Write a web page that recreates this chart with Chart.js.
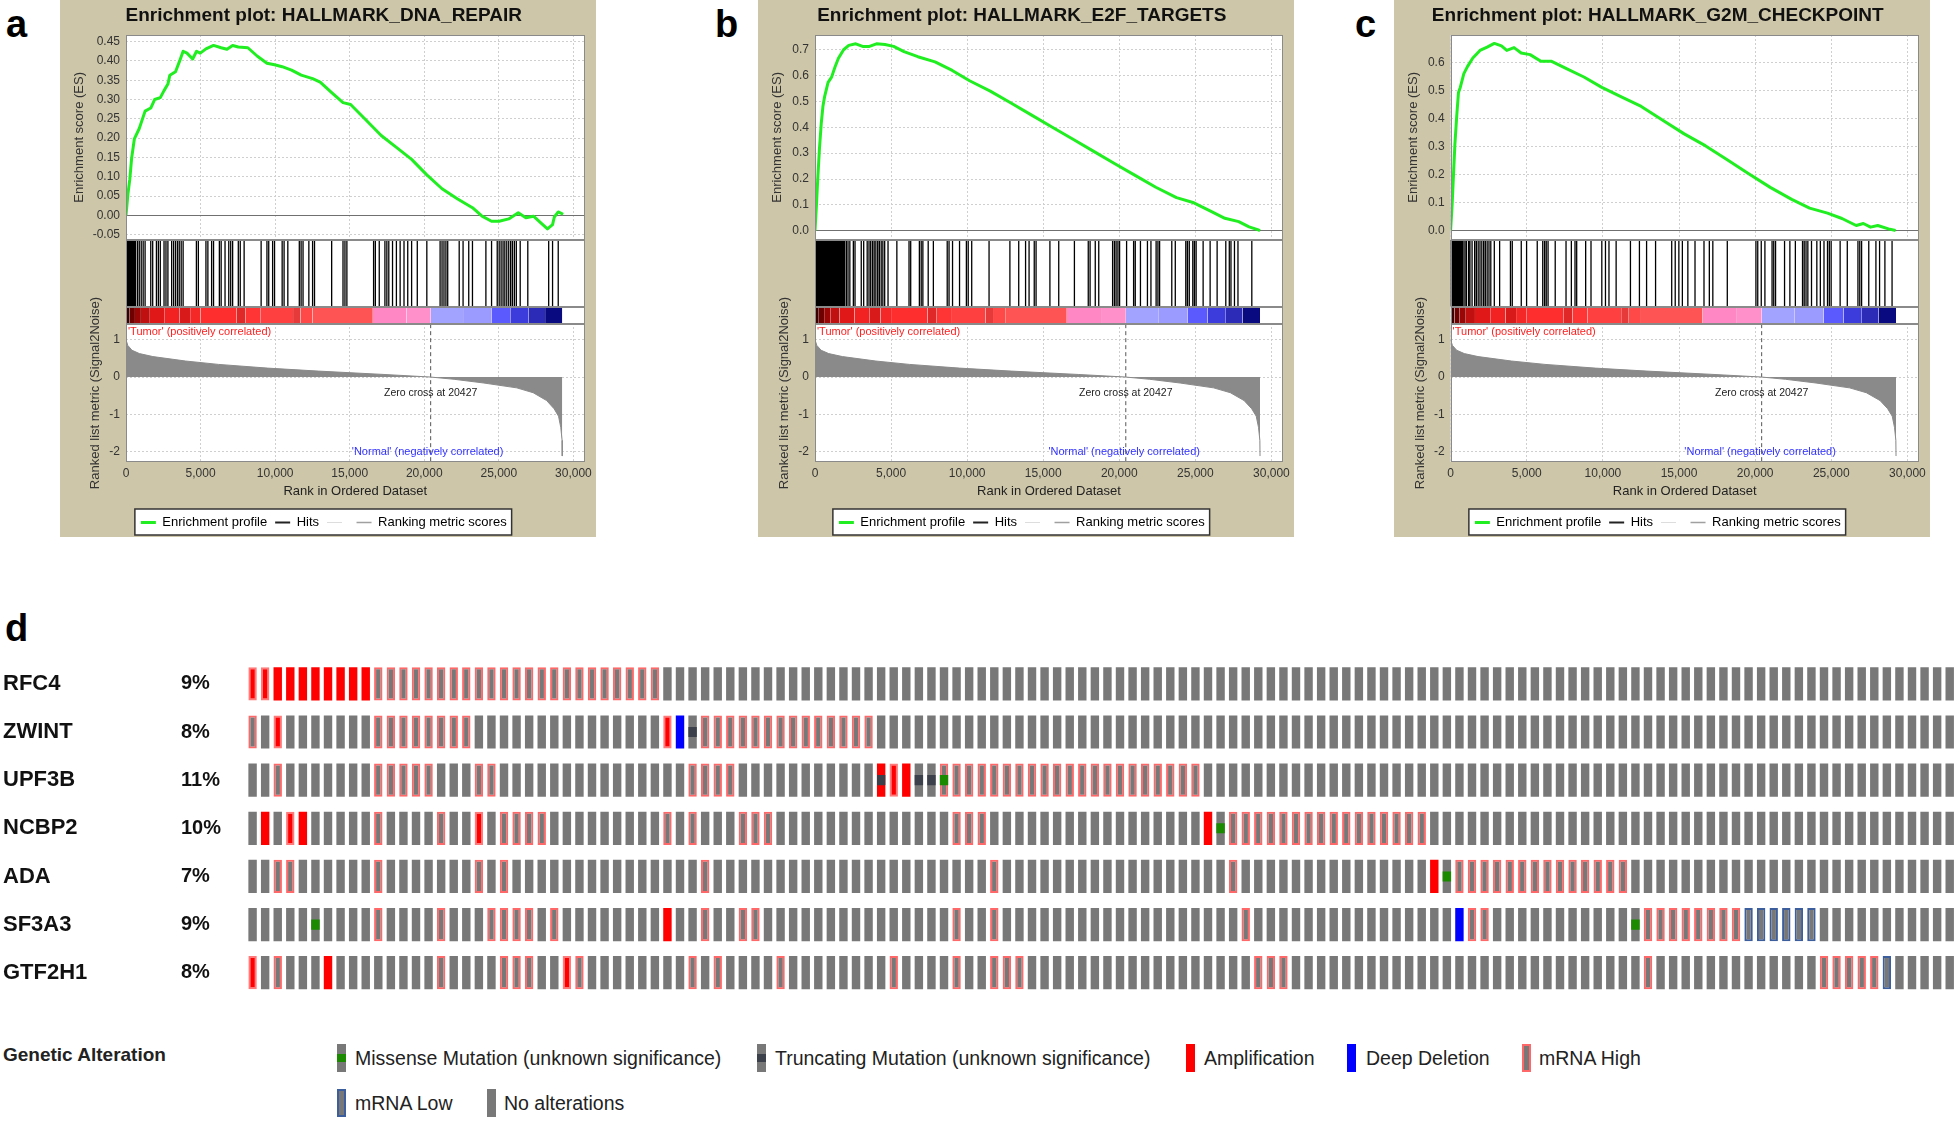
<!DOCTYPE html>
<html>
<head>
<meta charset="utf-8">
<title>GSEA enrichment plots and oncoprint</title>
<script src="https://cdn.jsdelivr.net/npm/chart.js@4.4.1/dist/chart.umd.min.js"></script>
<style>
  body { margin: 0; width: 1956px; height: 1121px; background: #ffffff; position: relative; overflow: hidden;
         font-family: "Liberation Sans", Arial, sans-serif; color: #222; }
  .panel { position: absolute; top: 0; width: 536px; height: 537px; background: #cdc6a9; }
  .panel canvas { position: absolute; left: 0; top: 0; }
  .letter { position: absolute; font-weight: bold; font-size: 38px; line-height: 38px; color: #000; }
  #onco { position: absolute; left: 0; top: 640px; }
  .lg { position: absolute; font-size: 19.5px; line-height: 28px; color: #222; white-space: nowrap; }
  .sw { position: absolute; width: 9px; height: 28px; box-sizing: border-box; background: #787878; }
  .mark { position: absolute; left: 0; top: 10px; width: 100%; height: 8px; }
</style>
</head>
<body>

<div class="letter" style="left:6px;top:5px">a</div>
<div class="letter" style="left:715px;top:5px">b</div>
<div class="letter" style="left:1355px;top:5px">c</div>
<div class="letter" style="left:5px;top:609px">d</div>

<div class="panel" style="left:60px"><canvas id="chartA" width="536" height="545"></canvas></div>
<div class="panel" style="left:758px"><canvas id="chartB" width="536" height="545"></canvas></div>
<div class="panel" style="left:1394px"><canvas id="chartC" width="536" height="545"></canvas></div>

<canvas id="onco" width="1956" height="370"></canvas>

<!-- oncoprint legend -->
<div class="lg" style="left:3px;top:1041px;font-weight:bold;font-size:19px">Genetic Alteration</div>
<div class="sw" style="left:337px;top:1044px"><div class="mark" style="background:#1b8a00"></div></div>
<div class="lg" style="left:355px;top:1044px">Missense Mutation (unknown significance)</div>
<div class="sw" style="left:757px;top:1044px"><div class="mark" style="background:#3b404a"></div></div>
<div class="lg" style="left:775px;top:1044px">Truncating Mutation (unknown significance)</div>
<div class="sw" style="left:1186px;top:1044px;background:#ff0000"></div>
<div class="lg" style="left:1204px;top:1044px">Amplification</div>
<div class="sw" style="left:1347px;top:1044px;background:#0000ff"></div>
<div class="lg" style="left:1366px;top:1044px">Deep Deletion</div>
<div class="sw" style="left:1522px;top:1044px;border:2px solid #ff6868"></div>
<div class="lg" style="left:1539px;top:1044px">mRNA High</div>
<div class="sw" style="left:337px;top:1089px;border:2px solid #3d5e9c"></div>
<div class="lg" style="left:355px;top:1089px">mRNA Low</div>
<div class="sw" style="left:487px;top:1089px"></div>
<div class="lg" style="left:504px;top:1089px">No alterations</div>

<script>
// ===============================================================================
// 1. Data
// ===============================================================================

// ranked gene list (same list behind all three gene sets)
var zeroCross = 20427;
var rankMax = 30750;
var rankTicks = [0, 5000, 10000, 15000, 20000, 25000, 30000];
var metricRank  = [0, 120, 400, 900, 1800, 4000, 6200, 9500, 12900, 17300, 20427, 22000, 24000, 26200, 27300, 28200, 28700, 29000, 29150, 29240, 29250];
var metricValue = [1.0, 0.85, 0.72, 0.63, 0.55, 0.43, 0.34, 0.24, 0.16, 0.07, 0, -0.06, -0.16, -0.29, -0.42, -0.63, -0.85, -1.05, -1.35, -1.7, -2.12];

// red -> blue colour bar under the hits
var colorbarStart = [0, 250, 600, 1000, 1600, 2600, 3600, 4300, 5000, 7400, 8000, 9000, 11200, 11700, 12500, 16550, 18800, 20430, 22600, 24500, 25800, 27000, 28100];
var colorbarEnd   = [250, 600, 1000, 1600, 2600, 3600, 4300, 5000, 7400, 8000, 9000, 11200, 11700, 12500, 16550, 18800, 20430, 22600, 24500, 25800, 27000, 28100, 29250];
var colorbarColor = ['#3a0000', '#6e0000', '#9a0505', '#c01010', '#e01818', '#f22222', '#d81a1a', '#f52828', '#ff2e2e', '#e02828', '#ff3434',
                     '#ff4040', '#e63a3a', '#ff4848', '#ff5454', '#ff88c4', '#ff90ca', '#a2a2ff', '#9a9aff', '#5a5aff', '#3c3cdc', '#2b2bb8', '#0a0a80'];

// a. HALLMARK_DNA_REPAIR
var repairRank = [0, 130, 250, 380, 560, 890, 1280, 1660, 1920, 2300, 2550, 2810, 2940, 3320, 3580, 3830, 4090, 4470, 4730, 4980,
                  5360, 5870, 6380, 6770, 7150, 7530, 8170, 8810, 9450, 9960, 10470, 11100, 11750, 12510, 13020, 13790, 14550, 15060, 16090, 17110,
                  18130, 19150, 20170, 21190, 22210, 23230, 23870, 24510, 25020, 25660, 26300, 26810, 27320, 27830, 28260, 28600, 28720, 28980, 29310];
var repairES   = [0, 0.056, 0.092, 0.149, 0.198, 0.225, 0.27, 0.278, 0.30, 0.305, 0.323, 0.34, 0.363, 0.372, 0.398, 0.425, 0.42, 0.405, 0.425, 0.42,
                  0.431, 0.44, 0.434, 0.43, 0.44, 0.436, 0.434, 0.412, 0.394, 0.39, 0.385, 0.376, 0.363, 0.354, 0.345, 0.318, 0.292, 0.287, 0.247, 0.207,
                  0.176, 0.145, 0.105, 0.069, 0.043, 0.020, -0.002, -0.015, -0.015, -0.009, 0.007, -0.006, -0.002, -0.02, -0.035, -0.024, -0.004, 0.009, 0.003];
var repairHits = [0, 50, 100, 150, 200, 250, 300, 350, 400, 450, 520, 580, 640, 770, 890, 1020, 1150, 1280, 1660, 1790,
                  2040, 2170, 2300, 2550, 2680, 2810, 3060, 3190, 3320, 3450, 3570, 3700, 3830, 4720, 4850, 5360, 5490, 5740, 5870, 6260,
                  6380, 6640, 6890, 7020, 7150, 7530, 7660, 7920, 9060, 9450, 9570, 9830, 9960, 10470, 10600, 10850, 11620, 11740, 11870, 12260,
                  12510, 12640, 13790, 14550, 14680, 14810, 16600, 16720, 16980, 17360, 17490, 17620, 17870, 18130, 18380, 18640, 18890, 19150, 19530, 20170,
                  21060, 21190, 21320, 21450, 21570, 22340, 22600, 22980, 23230, 24130, 24510, 24890, 25020, 25150, 25280, 25400, 25530, 25660, 25790, 25910,
                  26040, 26170, 26430, 26940, 28340, 28600, 28980];

// b. HALLMARK_E2F_TARGETS
var e2fRank = [0, 90, 180, 295, 410, 520, 635, 860, 1090, 1315, 1540, 1880, 2220, 2680, 3130, 3580, 4040, 4600, 5170, 5850,
               6760, 7890, 9020, 10160, 11520, 12880, 14240, 15600, 16960, 18320, 19680, 21040, 22400, 23760, 24900, 26030, 26940, 27850, 28530, 29090, 29250];
var e2fES   = [0, 0.094, 0.2, 0.32, 0.414, 0.48, 0.52, 0.574, 0.594, 0.633, 0.667, 0.70, 0.717, 0.723, 0.713, 0.713, 0.723, 0.72, 0.713, 0.693,
               0.673, 0.653, 0.62, 0.58, 0.54, 0.494, 0.447, 0.40, 0.354, 0.307, 0.26, 0.214, 0.168, 0.128, 0.108, 0.075, 0.048, 0.035, 0.015, 0.004, 0];
var e2fHits = [0, 60, 130, 190, 250, 320, 380, 440, 510, 570, 630, 700, 760, 820, 890, 950, 1010, 1080, 1140, 1200,
               1270, 1330, 1390, 1460, 1520, 1580, 1650, 1710, 1770, 1840, 1900, 1945, 2060, 2170, 2290, 2520, 2630, 3040, 3200, 3430,
               3550, 3660, 3780, 3890, 4000, 4120, 4230, 4350, 4460, 4580, 4800, 5380, 6180, 6290, 6860, 6980, 7090, 7440, 7780, 8690,
               8810, 9040, 9500, 9950, 10070, 10300, 11440, 12810, 13390, 13840, 14070, 14410, 14530, 15440, 16020, 17050, 17960, 18080, 18420, 18650,
               19560, 19680, 19790, 19910, 20020, 20480, 20940, 21050, 21390, 21850, 22080, 22420, 22540, 22650, 23450, 23680, 24370, 24480, 24600, 24830,
               24940, 25050, 25510, 25970, 26430, 27000, 27230, 27340, 27570, 27800, 28710];

// c. HALLMARK_G2M_CHECKPOINT
var g2mRank = [0, 94, 188, 282, 400, 518, 635, 870, 1106, 1460, 1930, 2400, 2870, 3340, 3690, 4165, 4635, 5220, 5930, 6635,
               7575, 8755, 9930, 11110, 12520, 13930, 15340, 16750, 18165, 19575, 20990, 22400, 23575, 24750, 25700, 26635, 27105, 27575, 28050, 28755, 29220];
var g2mES   = [0, 0.086, 0.197, 0.308, 0.407, 0.493, 0.511, 0.56, 0.585, 0.616, 0.643, 0.655, 0.668, 0.659, 0.643, 0.653, 0.634, 0.628, 0.604, 0.604,
               0.579, 0.548, 0.511, 0.48, 0.443, 0.394, 0.345, 0.302, 0.253, 0.203, 0.154, 0.111, 0.08, 0.062, 0.043, 0.018, 0.025, 0.012, 0.018, 0.006, 0];
var g2mHits = [0, 60, 125, 190, 250, 310, 375, 440, 500, 560, 625, 690, 750, 820, 940, 1040, 1180, 1270, 1410, 1580,
               1690, 1810, 1930, 2050, 2170, 2280, 2400, 2520, 2640, 2870, 3220, 3930, 4050, 4640, 4990, 5690, 6050, 6170, 6280, 6400,
               6870, 7580, 7930, 8170, 8280, 8870, 9220, 9930, 10170, 10400, 10870, 11810, 12400, 12870, 13460, 14520, 14750, 14990, 15220, 15580,
               16050, 16640, 16990, 17220, 18170, 20050, 20170, 20400, 20640, 21110, 21220, 21340, 21930, 22280, 22640, 23110, 23220, 23340, 23460, 23700,
               24050, 24280, 24520, 24750, 24870, 24990, 25580, 26050, 26750, 26870, 26990, 27460, 27930, 28170, 28520, 28990];

// d. oncoprint, one letter per sample (136 samples)
//    n none, h mRNA high, l mRNA low, a amplification, b amplification + mRNA high,
//    d deep deletion, m missense, t truncating, u amplification + truncating, g mRNA high + missense
var geneNames    = ['RFC4', 'ZWINT', 'UPF3B', 'NCBP2', 'ADA', 'SF3A3', 'GTF2H1'];
var genePercents = ['9%', '8%', '11%', '10%', '7%', '9%', '8%'];
var trackRFC4   = 'bbaaaaaaaa hhhhhhhhhh hhhhhhhhhh hhhnnnnnnn nnnnnnnnnn nnnnnnnnnn nnnnnnnnnn nnnnnnnnnn nnnnnnnnnn nnnnnnnnnn nnnnnnnnnn nnnnnnnnnn nnnnnnnnnn nnnnnn';
var trackZWINT  = 'hnbnnnnnnn hhhhhhhhnn nnnnnnnnnn nnnbdthhhh hhhhhhhhhh nnnnnnnnnn nnnnnnnnnn nnnnnnnnnn nnnnnnnnnn nnnnnnnnnn nnnnnnnnnn nnnnnnnnnn nnnnnnnnnn nnnnnn';
var trackUPF3B  = 'nnhnnnnnnn hhhhhnnnhh nnnnnnnnnn nnnnnhhhhn nnnnnnnnnn ubattghhhh hhhhhhhhhh hhhhhhnnnn nnnnnnnnnn nnnnnnnnnn nnnnnnnnnn nnnnnnnnnn nnnnnnnnnn nnnnnn';
var trackNCBP2  = 'nanbannnnn hnnnnhnnbn hhhhnnnnnn nnnhnhnnnh hhnnnnnnnn nnnnnnhhhn nnnnnnnnnn nnnnnnamhh hhhhhhhhhh hhhhnnnnnn nnnnnnnnnn nnnnnnnnnn nnnnnnnnnn nnnnnn';
var trackADA    = 'nnhhnnnnnn hnnnnnnnhn hnnnnnnnnn nnnnnnhnnn nnnnnnnnnn nnnnnnnnnh nnnnnnnnnn nnnnnnnnhn nnnnnnnnnn nnnnamhhhh hhhhhhhhhh nnnnnnnnnn nnnnnnnnnn nnnnnn';
var trackSF3A3  = 'nnnnnmnnnn hnnnnhnnnh hhhnhnnnnn nnnannhnnh hnnnnnnnnn nnnnnnhnnh nnnnnnnnnn nnnnnnnnnh nnnnnnnnnn nnnnnndhhn nnnnnnnnnn mhhhhhhhhl lllllnnnnn nnnnnn';
var trackGTF2H1 = 'bnhnnnannn nnnnnhnnnn hhhnnbhnnn nnnnnhnhnn nnhnnnnnnn nhnnnnhnnh hhnnnnnnnn nnnnnnnnnn hhhnnnnnnn nnnnnnnnnn nnnnnnnnnn nhnnnnnnnn nnnnnhhhhh lnnnnn';
var geneTracks = [trackRFC4, trackZWINT, trackUPF3B, trackNCBP2, trackADA, trackSF3A3, trackGTF2H1];

// ===============================================================================
// 2. Shared look
// ===============================================================================
Chart.defaults.font.family = '"Liberation Sans", Arial, sans-serif';
Chart.defaults.color = '#222';
Chart.defaults.animation = false;

var gridGray = '#cfcfcf';

// frames, white plot background, legend box and the text notes of a GSEA panel
var gseaDecor = {
  id: 'gseaDecor',
  beforeDraw: function (chart) {
    var ctx = chart.ctx, area = chart.chartArea;
    ctx.save();
    ctx.fillStyle = '#ffffff';
    ctx.fillRect(area.left, area.top, area.right - area.left, area.bottom - area.top);
    var boxes = chart.legend.legendHitBoxes;
    var x0 = Math.min.apply(null, boxes.map(function (b) { return b.left; })) - 6;
    var x1 = Math.max.apply(null, boxes.map(function (b) { return b.left + b.width; })) + 5;
    var y0 = chart.legend.top + 1;
    ctx.fillRect(x0, y0, x1 - x0, 26);
    ctx.strokeStyle = '#333';
    ctx.lineWidth = 1.5;
    ctx.strokeRect(x0, y0, x1 - x0, 26);
    ctx.restore();
  },
  beforeDatasetsDraw: function (chart) {
    // no grid behind the hit marks and colour bar
    var ctx = chart.ctx, area = chart.chartArea;
    var h = chart.scales.yHits, b = chart.scales.yBar;
    ctx.save();
    ctx.fillStyle = '#ffffff';
    ctx.fillRect(area.left, h.top, area.right - area.left, b.bottom - h.top);
    ctx.restore();
  },
  afterDatasetsDraw: function (chart) {
    var ctx = chart.ctx, area = chart.chartArea;
    var x = chart.scales.x, m = chart.scales.yMetric;
    ctx.save();
    ctx.strokeStyle = '#8a8a8a';
    ctx.lineWidth = 1;
    ['yES', 'yHits', 'yBar', 'yMetric'].forEach(function (id) {
      var s = chart.scales[id];
      ctx.strokeRect(Math.round(area.left) + 0.5, Math.round(s.top) + 0.5,
                     Math.round(area.right - area.left) - 1, Math.round(s.bottom - s.top) - 1);
    });
    ctx.textBaseline = 'middle';
    ctx.font = '11px "Liberation Sans", Arial, sans-serif';
    ctx.fillStyle = '#ff2020';
    ctx.textAlign = 'left';
    ctx.fillText("'Tumor' (positively correlated)", area.left + 2, m.top + 8);
    ctx.fillStyle = '#3333ff';
    ctx.textAlign = 'right';
    ctx.fillText("'Normal' (negatively correlated)", x.getPixelForValue(25300), m.getPixelForValue(-2.0));
    ctx.font = '10.5px "Liberation Sans", Arial, sans-serif';
    ctx.fillStyle = '#222';
    ctx.textAlign = 'center';
    ctx.fillText('Zero cross at ' + zeroCross, x.getPixelForValue(zeroCross), m.getPixelForValue(-0.43));
    ctx.restore();
  }
};

var gseaLegendItems = [
  {text: 'Enrichment profile', strokeStyle: '#21ee21', fillStyle: '#21ee21', lineWidth: 3, pointStyle: 'line', hidden: false},
  {text: 'Hits', strokeStyle: '#222222', fillStyle: '#222222', lineWidth: 2, pointStyle: 'line', hidden: false},
  {text: '', strokeStyle: '#dddddd', fillStyle: '#dddddd', lineWidth: 1, pointStyle: 'line', hidden: false},
  {text: 'Ranking metric scores', strokeStyle: '#a0a0a0', fillStyle: '#a0a0a0', lineWidth: 1.5, pointStyle: 'line', hidden: false}
];

// ===============================================================================
// 3. GSEA enrichment plot (ES curve, hits, colour bar, ranked metric)
// ===============================================================================
function plotEnrichment(canvasId, title, esRank, esValue, hits, esAxis) {
  var esPoints = esRank.map(function (r, i) { return {x: r, y: esValue[i]}; });
  var hitPoints = [];
  hits.forEach(function (h) { hitPoints.push({x: h, y: 0}, {x: h, y: 1}, {x: h, y: null}); });
  var metricPoints = metricRank.map(function (r, i) { return {x: r, y: metricValue[i]}; });

  var datasets = [
    {label: 'Enrichment profile', data: esPoints, yAxisID: 'yES', borderColor: '#21ee21', borderWidth: 3,
     borderJoinStyle: 'round', pointRadius: 0, fill: false},
    {label: 'Hits', data: hitPoints, yAxisID: 'yHits', borderColor: '#000000', borderWidth: 1.3, pointRadius: 0,
     fill: false, spanGaps: false},
    {label: 'Ranking metric scores', data: metricPoints, yAxisID: 'yMetric', borderColor: '#8a8a8a',
     backgroundColor: '#8a8a8a', borderWidth: 1, pointRadius: 0, fill: 'origin'},
    {label: 'Zero cross', data: [{x: zeroCross, y: 1.42}, {x: zeroCross, y: -2.28}], yAxisID: 'yMetric',
     borderColor: '#555555', borderWidth: 1, borderDash: [4, 3], pointRadius: 0, fill: false}
  ];
  colorbarStart.forEach(function (s, i) {
    datasets.push({label: 'colour bar', data: [{x: s, y: 1}, {x: colorbarEnd[i], y: 1}], yAxisID: 'yBar',
                   backgroundColor: colorbarColor[i], borderWidth: 0, pointRadius: 0, fill: 'origin'});
  });

  var fixWidth = function (s) { s.width = esAxis.width; };
  var hiddenAxis = function (weight) {
    return {type: 'linear', position: 'left', stack: 'gsea', stackWeight: weight, min: 0, max: 1,
            ticks: {display: false}, grid: {display: false}, border: {display: false}, afterFit: fixWidth};
  };

  // left stacked axes are laid out last-defined on top, so list them bottom -> top
  new Chart(document.getElementById(canvasId), {
    type: 'line',
    data: {datasets: datasets},
    options: {
      responsive: false,
      animation: false,
      layout: {padding: {left: 0, right: 8.5, top: 0, bottom: 6}},
      plugins: {
        title: {display: true, text: title, color: '#111', font: {size: 19, weight: 'bold'},
                padding: {top: 4, bottom: 8.2}},
        legend: {position: 'bottom',
                 labels: {usePointStyle: true, pointStyleWidth: 15, padding: 8, color: '#111', font: {size: 13},
                          generateLabels: function () { return gseaLegendItems; }}},
        tooltip: {enabled: false}
      },
      scales: {
        x: {type: 'linear', position: 'bottom', min: 0, max: rankMax,
            afterBuildTicks: function (s) { s.ticks = rankTicks.map(function (v) { return {value: v}; }); },
            ticks: {autoSkip: false, maxRotation: 0, padding: 4, color: '#333', font: {size: 12},
                    callback: function (v) { return v.toLocaleString('en-US'); }},
            grid: {color: gridGray, drawTicks: false},
            border: {display: false, dash: [2, 2]},
            title: {display: true, text: 'Rank in Ordered Dataset', color: '#222', font: {size: 13},
                    padding: {top: 0, bottom: 9.2}},
            afterFit: function (s) { s.height = 46; }},
        yMetric: {type: 'linear', position: 'left', stack: 'gsea', stackWeight: 138, min: -2.28, max: 1.42,
                  ticks: {stepSize: 1, includeBounds: false, autoSkip: false, padding: 6, color: '#333', font: {size: 12}},
                  grid: {drawTicks: false, color: gridGray},
                  border: {display: false, dash: [2, 2]},
                  title: {display: true, text: 'Ranked list metric (Signal2Noise)', color: '#333', font: {size: 13},
                          padding: {top: esAxis.metricPad, bottom: 0}},
                  afterFit: fixWidth},
        yBar: hiddenAxis(17.5),
        yHits: hiddenAxis(67),
        yES: {type: 'linear', position: 'left', stack: 'gsea', stackWeight: 205, min: esAxis.min, max: esAxis.max,
              ticks: {stepSize: esAxis.step, includeBounds: false, autoSkip: false, padding: 6, color: '#333', font: {size: 12},
                      callback: function (v) { return v.toFixed(esAxis.digits); }},
              grid: {drawTicks: false,
                     color: function (c) { return c.tick && c.tick.value === 0 ? '#707070' : gridGray; }},
              border: {display: false,
                       dash: function (c) { return c.tick && c.tick.value === 0 ? [] : [2, 2]; }},
              title: {display: true, text: 'Enrichment score (ES)', color: '#333', font: {size: 13},
                      padding: {top: 11.7, bottom: 0}},
              afterFit: fixWidth}
      }
    },
    plugins: [gseaDecor]
  });
}

plotEnrichment('chartA', 'Enrichment plot: HALLMARK_DNA_REPAIR', repairRank, repairES, repairHits,
               {min: -0.063, max: 0.467, step: 0.05, digits: 2, width: 66, metricPad: 27.7});
plotEnrichment('chartB', 'Enrichment plot: HALLMARK_E2F_TARGETS', e2fRank, e2fES, e2fHits,
               {min: -0.035, max: 0.757, step: 0.1, digits: 1, width: 57, metricPad: 18.8});
plotEnrichment('chartC', 'Enrichment plot: HALLMARK_G2M_CHECKPOINT', g2mRank, g2mES, g2mHits,
               {min: -0.033, max: 0.698, step: 0.1, digits: 1, width: 56.6, metricPad: 18.8});

// ===============================================================================
// 4. Oncoprint (floating bars, one row per gene)
// ===============================================================================
function plotOncoprint() {
  var cellFill   = {n: '#787878', h: '#787878', l: '#787878', m: '#787878', t: '#787878', g: '#787878',
                    a: '#ff0000', b: '#ff0000', u: '#ff0000', d: '#0000ff'};
  var cellBorder = {h: '#ff6868', b: '#ff7a7a', g: '#ff6868', l: '#3d5e9c'};
  var markColor  = {m: '#1b8a00', g: '#1b8a00', t: '#3b404a', u: '#3b404a'};
  var none = 'rgba(0,0,0,0)';

  var tracks = geneTracks.map(function (t) { return t.replace(/ /g, '').split(''); });
  var samples = tracks[0].map(function (c, i) { return 'sample ' + (i + 1); });

  var datasets = [];
  tracks.forEach(function (codes, g) {
    datasets.push({
      label: geneNames[g], yAxisID: 'yGene', grouped: false, order: 1,
      data: codes.map(function () { return [g + 0.155, g + 0.845]; }),
      backgroundColor: codes.map(function (k) { return cellFill[k]; }),
      borderColor: codes.map(function (k) { return cellBorder[k] || none; }),
      borderWidth: codes.map(function (k) { return cellBorder[k] ? 2 : 0; }),
      borderSkipped: false, barPercentage: 0.67, categoryPercentage: 1
    });
    if (codes.some(function (k) { return markColor[k]; })) {
      datasets.push({
        label: geneNames[g] + ' mutation', yAxisID: 'yGene', grouped: false, order: 0,
        data: codes.map(function (k) { return markColor[k] ? [g + 0.395, g + 0.605] : null; }),
        backgroundColor: codes.map(function (k) { return markColor[k] || none; }),
        borderWidth: 0, barPercentage: 0.67, categoryPercentage: 1
      });
    }
  });

  var labelAxis = function (names, weight, width, size) {
    return {
      type: 'linear', position: 'left', weight: weight, min: 0, max: 7, reverse: true,
      afterBuildTicks: function (s) { s.ticks = names.map(function (n, i) { return {value: i + 0.5}; }); },
      ticks: {crossAlign: 'far', padding: 0, autoSkip: false, color: '#111', font: {size: size, weight: 'bold'},
              callback: function (v, i) { return names[i]; }},
      grid: {display: false, drawTicks: false},
      border: {display: false},
      afterFit: function (s) { s.width = width; }
    };
  };

  new Chart(document.getElementById('onco'), {
    type: 'bar',
    data: {labels: samples, datasets: datasets},
    options: {
      responsive: false,
      animation: false,
      layout: {padding: {left: 3, right: 0, top: 19.8, bottom: 12}},
      plugins: {legend: {display: false}, tooltip: {enabled: false}},
      scales: {
        x: {type: 'category', display: false},
        yGene: labelAxis(geneNames, 2, 178, 22),
        yPct: labelAxis(genePercents, 1, 65.3, 20)
      }
    }
  });
}

plotOncoprint();
</script>
</body>
</html>
